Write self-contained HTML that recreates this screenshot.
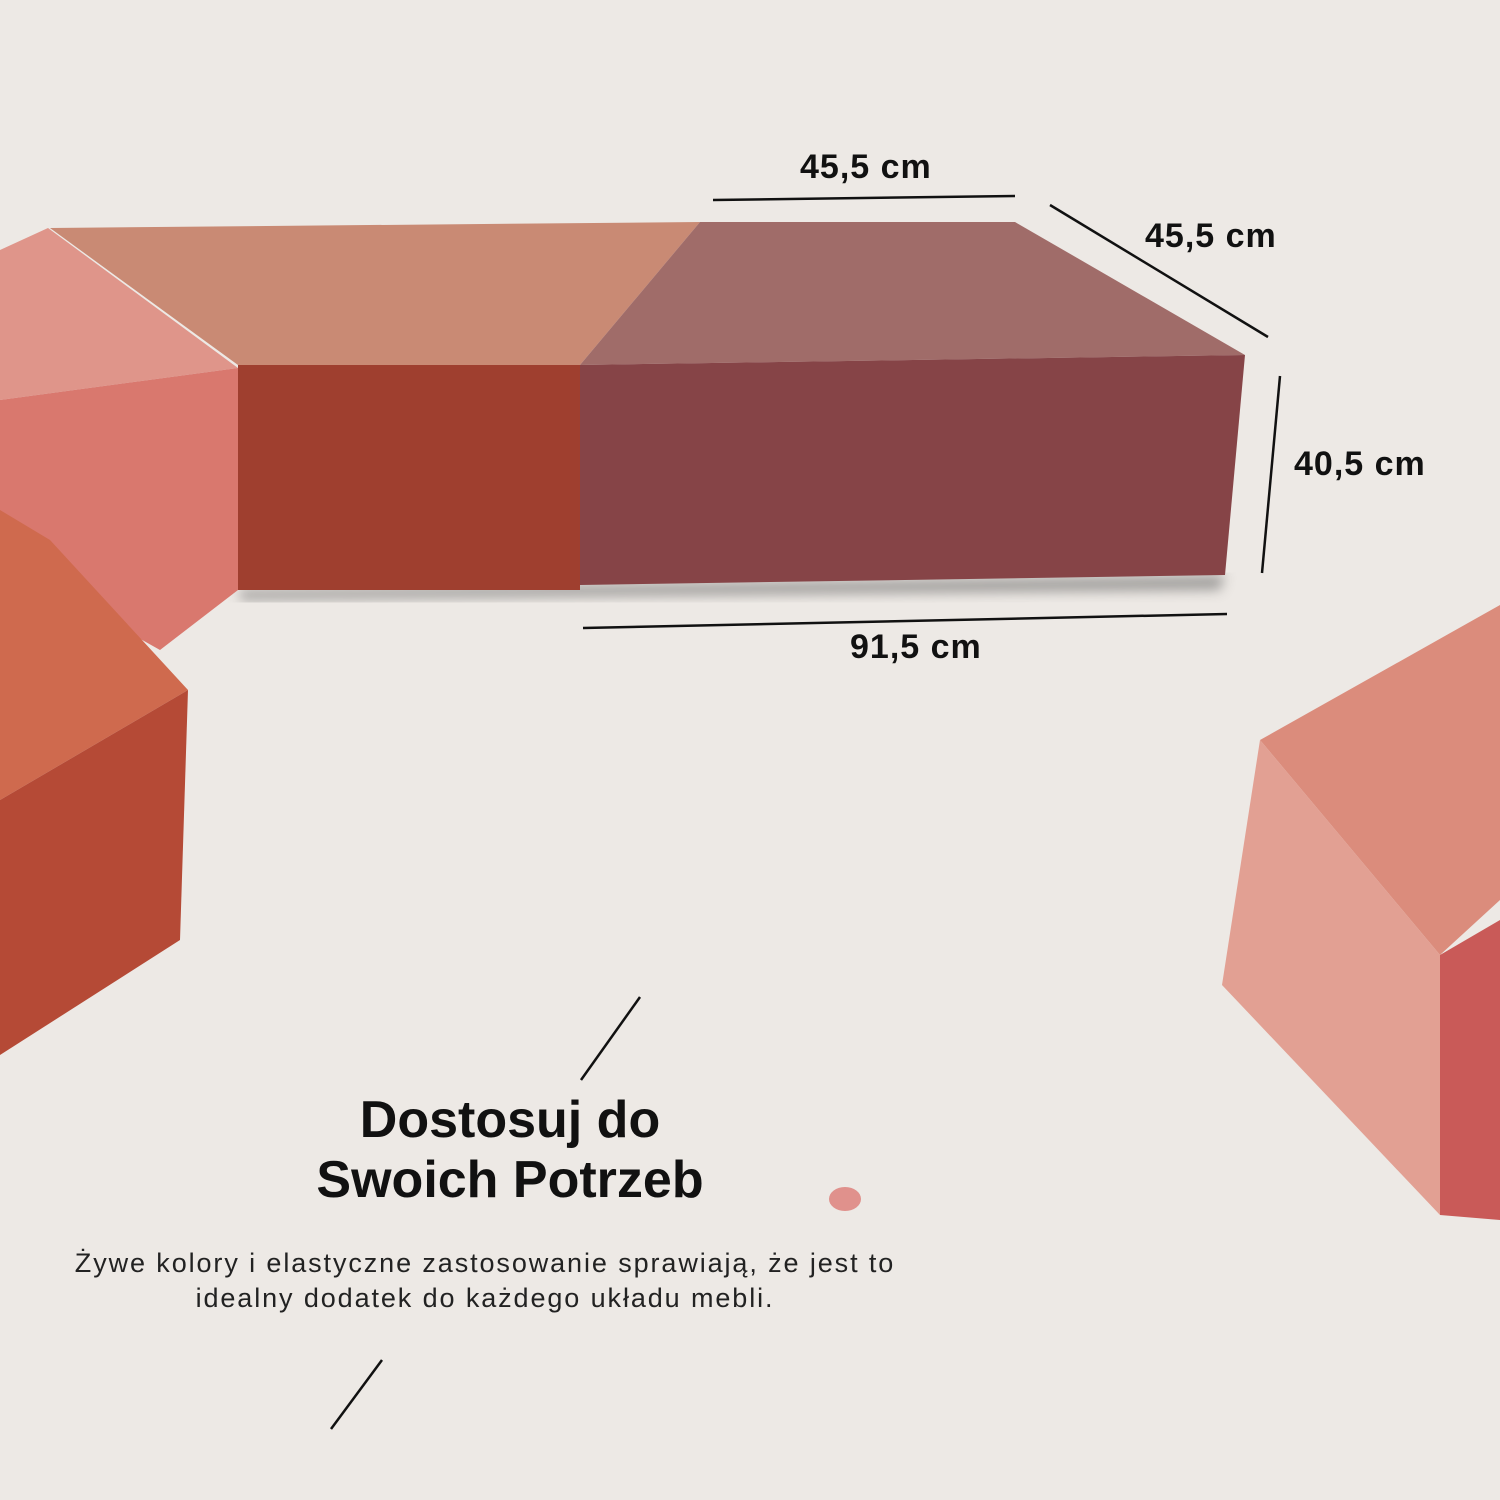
<!DOCTYPE html>
<html><head><meta charset="utf-8"><style>
html,body{margin:0;padding:0;background:#ede9e5;}
.wrap{position:relative;width:1500px;height:1500px;overflow:hidden;background:#ede9e5;font-family:"Liberation Sans",sans-serif;}
svg{position:absolute;left:0;top:0}
.h{position:absolute;left:160px;width:700px;text-align:center;font-weight:bold;font-size:52px;color:#111;line-height:60px;top:1090px}
.p{position:absolute;left:0px;width:970px;text-align:center;font-size:27px;letter-spacing:1.9px;color:#222;line-height:35px;top:1246px}
</style></head><body><div class="wrap">
<svg width="1500" height="1500" viewBox="0 0 1500 1500">
<defs><filter id="b"><feGaussianBlur stdDeviation="6"/></filter></defs>
<polygon points="240,590 1225,575 1220,590 240,600" fill="#555" opacity="0.5" filter="url(#b)"/>
<polygon points="50,228 700,222 580,365 238,365" fill="#c98a74"/>
<polygon points="238,365 580,365 580,590 238,590" fill="#9f3f2f"/>
<polygon points="700,222 1015,222 1245,355 580,365" fill="#a06c69"/>
<polygon points="580,365 1245,355 1225,575 580,585" fill="#864447"/>
<polygon points="0,250 48,228 238,368 0,400" fill="#df958a"/>
<polygon points="0,400 238,368 238,590 160,650 0,560" fill="#d9786e"/>
<polygon points="0,510 50,540 188,690 0,800" fill="#cf6a4e"/>
<polygon points="0,800 188,690 180,940 0,1055" fill="#b54a36"/>
<polygon points="1260,740 1500,605 1500,900 1440,955" fill="#db8c7c"/>
<polygon points="1260,740 1440,955 1440,1215 1222,985" fill="#e2a093"/>
<polygon points="1440,955 1500,920 1500,1220 1440,1215" fill="#c95a58"/>
<g stroke="#111" stroke-width="2.5">
<line x1="713" y1="200" x2="1015" y2="196"/>
<line x1="1050" y1="205" x2="1268" y2="337"/>
<line x1="1280" y1="376" x2="1262" y2="573"/>
<line x1="583" y1="628" x2="1227" y2="614"/>
<line x1="640" y1="997" x2="581" y2="1080"/>
<line x1="382" y1="1360" x2="331" y2="1429"/>
</g>
<g font-family="Liberation Sans, sans-serif" font-weight="bold" font-size="34" letter-spacing="1" fill="#111">
<text x="800" y="178">45,5 cm</text>
<text x="1145" y="247">45,5 cm</text>
<text x="1294" y="475">40,5 cm</text>
<text x="850" y="658">91,5 cm</text>
</g>
<ellipse cx="845" cy="1199" rx="16" ry="12" fill="#e0918c"/>
</svg>
<div class="h">Dostosuj do<br>Swoich Potrzeb</div>
<div class="p">Żywe kolory i elastyczne zastosowanie sprawiają, że jest to<br>idealny dodatek do każdego układu mebli.</div>
</div></body></html>
